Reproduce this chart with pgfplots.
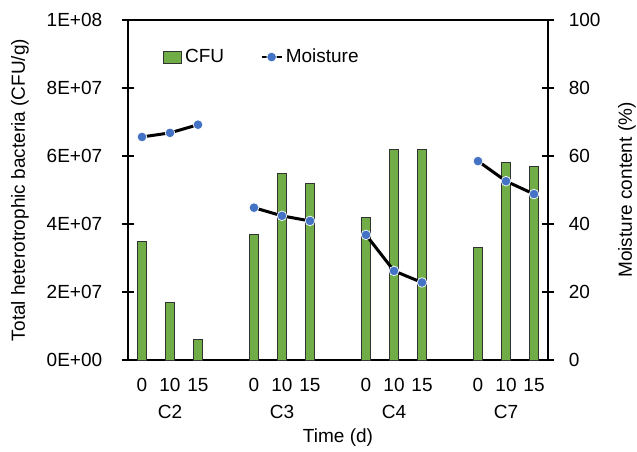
\documentclass[border=0pt]{standalone}
\usepackage{pgfplots}
\pgfplotsset{compat=1.18}
\usepackage{fontspec}
\setmainfont{Liberation Sans}
\definecolor{cfugreen}{HTML}{70AD47}
\definecolor{moistblue}{HTML}{4472C4}

\pgfplotstableread{
x  cfu
0  3.5
1  1.7
2  0.6
4  3.7
5  5.5
6  5.2
8  4.2
9  6.2
10 6.2
12 3.3
13 5.8
14 5.7
}\cfudata

\pgfplotstableread{
x  m
0  65.6
1  66.8
2  69.2
3  nan
4  44.8
5  42.4
6  40.9
7  nan
8  36.8
9  26.2
10 22.8
11 nan
12 58.5
13 52.6
14 48.8
}\moistdata

\begin{document}
\fontsize{11.4}{13}\selectfont
\begin{tikzpicture}[x=1pt,y=1pt]
\pgfplotsset{
  every axis/.append style={
    scale only axis, width=252pt, height=204pt,
    xmin=-0.5, xmax=14.5,
    font=\fontsize{11.4}{13}\selectfont,
    tick align=center, major tick length=7pt,
    axis line style={line width=0.9pt},
    every tick/.style={black, line width=0.9pt},
    /pgf/number format/assume math mode=true,
  },
}
\begin{axis}[
  axis y line*=left,
  axis x line*=bottom,
  ymin=0, ymax=10,
  ytick={0,2,4,6,8,10},
  yticklabels={0E+00,2E+07,4E+07,6E+07,8E+07,1E+08},
  yticklabel style={xshift=-8pt},
  xtick={0,1,2,4,5,6,8,9,10,12,13,14},
  xticklabels={0,10,15,0,10,15,0,10,15,0,10,15},
  major x tick style={draw=none},
  xticklabel style={yshift=-3.5pt},
  ylabel={Total heterotrophic bacteria (CFU/g)},
  ylabel style={at={(axis description cs:0,0.5)}, anchor=center, inner sep=0pt, yshift=64.8pt},
  xlabel={Time (d)},
  xlabel style={at={(axis description cs:0.5,0)}, anchor=center, inner sep=0pt, yshift=-46.8pt},
  clip=false,
]
\addplot[ybar, bar width=5.6pt, fill=cfugreen, draw=black!80, line width=0.6pt] table[x=x, y=cfu] {\cfudata};
\node at (axis cs:1,0) [yshift=-31pt] {C2};
\node at (axis cs:5,0) [yshift=-31pt] {C3};
\node at (axis cs:9,0) [yshift=-31pt] {C4};
\node at (axis cs:13,0) [yshift=-31pt] {C7};
\draw[line width=0.9pt] (rel axis cs:0,1) -- (rel axis cs:1,1);
\end{axis}
\begin{axis}[
  axis y line*=right,
  axis x line=none,
  ymin=0, ymax=100,
  ytick={0,20,40,60,80,100},
  yticklabel style={xshift=5pt},
  ylabel={Moisture content (\%)},
  ylabel style={at={(axis description cs:1,0.5)}, anchor=center, inner sep=0pt, yshift=-47.4pt},
  unbounded coords=jump,
  legend style={draw=none, fill=none, at={(0.07,0.891)}, anchor=west,
    legend columns=2, font=\fontsize{11.4}{13}\selectfont,
    /tikz/every even column/.append style={column sep=20pt}},
  clip=false,
]
\addlegendimage{legend image code/.code={
  \draw[fill=cfugreen, draw=black!80, line width=0.6pt] (0pt,-3.6pt) rectangle (10.8pt,3.6pt);}}
\addlegendentry{CFU}
\addplot[black, line width=1.8pt, mark=*, mark size=2.9pt,
  mark options={fill=moistblue, draw=white, line width=0.4pt},
  legend image code/.code={
    \draw[black, line width=1pt] (0pt,0pt) -- (12pt,0pt);
    \draw[fill=moistblue, draw=white, line width=0.4pt] (6pt,0pt) circle (2.9pt);}]
  table[x=x, y=m] {\moistdata};
\addlegendentry{Moisture}
\path (rel axis cs:0,0) ++(-76.8pt,-54.6pt) (rel axis cs:1,1) ++(53.4pt,12pt);
\end{axis}
\end{tikzpicture}
\end{document}
